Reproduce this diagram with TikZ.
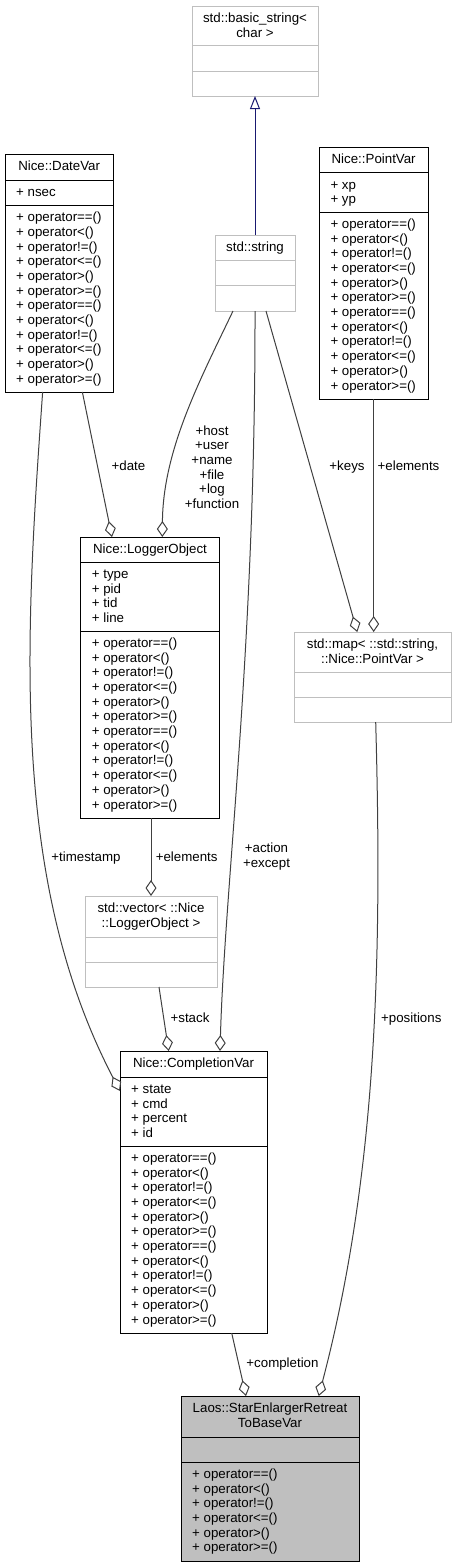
\documentclass[tikz,border=0pt]{standalone}
\usepackage{fontspec}
\setmainfont{Liberation Sans}
\usetikzlibrary{arrows.meta,calc}
\definecolor{gborder}{HTML}{BFBFBF}
\definecolor{edgec}{HTML}{404040}
\definecolor{inhc}{HTML}{191970}
\definecolor{curfill}{HTML}{BFBFBF}
\newcommand\clsbox[6]{\node[#2, minimum width={#5-#3}, minimum height={#6-#4}, inner sep=0pt, outer sep=0pt, anchor=north west] (#1) at (#3,#4) {};}
\newcommand\hsep[4]{\draw[#1] (#2,#4) -- (#3,#4);}
\newcommand\lns[5]{\foreach \t [count=\i from 0] in {#5} {\node[txt, anchor=#2] (#1\i) at (#3,{#4+14.7*\i}) {\t};}}
\begin{document}
\begin{tikzpicture}[x=1pt,y=-1pt,
 txt/.style={font=\fontsize{13.3}{14.7}\selectfont, inner sep=0pt, text=black},
 gbox/.style={draw=gborder, line width=1pt, fill=white},
 bbox/.style={draw=black, line width=1pt, fill=white},
 cbox/.style={draw=black, line width=1pt, fill=curfill},
 gsep/.style={draw=gborder, line width=1pt},
 bsep/.style={draw=black, line width=1pt},
 rel/.style={draw=edgec, line width=1pt},
 agg/.style={rel, -{Diamond[open, length=16pt, width=11pt]}},
 inh/.style={draw=inhc, line width=1pt, -{Triangle[open, length=13pt, width=10pt]}}]
\useasboundingbox (0,0) rectangle (456,1567);
\fill[white] (0,0) rectangle (456,1567);

% std::basic_string<char>
\clsbox{bstr}{gbox}{192}{6}{318}{96}
\hsep{gsep}{192}{318}{45.5}\hsep{gsep}{192}{318}{71}
\lns{bt}{base}{255}{22.3}{std::basic\_string<,char >}

% std::string
\clsbox{str}{gbox}{215}{235}{295}{311}
\hsep{gsep}{215}{295}{260}\hsep{gsep}{215}{295}{285}
\lns{st}{base}{255}{251.3}{std::string}

% Nice::DateVar
\clsbox{dv}{bbox}{5}{154.3}{113.3}{392}
\hsep{bsep}{5}{113.3}{180.3}\hsep{bsep}{5}{113.3}{205.3}
\lns{dvt}{base}{59.15}{170.6}{Nice::DateVar}
\lns{dva}{base west}{16}{196.6}{+ nsec}
\lns{dvm}{base west}{16}{221.6}{+ operator==(),+ operator<(),+ operator!=(),+ operator<=(),+ operator>(),+ operator>=(),+ operator==(),+ operator<(),+ operator!=(),+ operator<=(),+ operator>(),+ operator>=()}

% Nice::PointVar
\clsbox{pv}{bbox}{319.3}{147}{428}{399}
\hsep{bsep}{319.3}{428}{172.7}\hsep{bsep}{319.3}{428}{212}
\lns{pvt}{base}{373.65}{163.3}{Nice::PointVar}
\lns{pva}{base west}{330.3}{189}{+ xp,+ yp}
\lns{pvm}{base west}{330.3}{228.3}{+ operator==(),+ operator<(),+ operator!=(),+ operator<=(),+ operator>(),+ operator>=(),+ operator==(),+ operator<(),+ operator!=(),+ operator<=(),+ operator>(),+ operator>=()}

% Nice::LoggerObject
\clsbox{lo}{bbox}{80.7}{537}{219.3}{818}
\hsep{bsep}{80.7}{219.3}{562}\hsep{bsep}{80.7}{219.3}{631}
\lns{lot}{base}{150}{553.3}{Nice::LoggerObject}
\lns{loa}{base west}{91.7}{578.3}{+ type,+ pid,+ tid,+ line}
\lns{lom}{base west}{91.7}{647.3}{+ operator==(),+ operator<(),+ operator!=(),+ operator<=(),+ operator>(),+ operator>=(),+ operator==(),+ operator<(),+ operator!=(),+ operator<=(),+ operator>(),+ operator>=()}

% std::map
\clsbox{map}{gbox}{294}{632}{451}{722}
\hsep{gsep}{294}{451}{672}\hsep{gsep}{294}{451}{697}
\node[txt, anchor=base] (mapt0) at (372.5,648.3) {std::map< ::std::string,};
\node[txt, anchor=base] (mapt1) at (372.5,663) {::Nice::PointVar >};

% std::vector
\clsbox{vec}{gbox}{85}{896}{217}{987}
\hsep{gsep}{85}{217}{937}\hsep{gsep}{85}{217}{962}
\lns{vect}{base}{151}{912.3}{std::vector< ::Nice,::LoggerObject >}

% Nice::CompletionVar
\clsbox{cv}{bbox}{120}{1051}{267}{1333}
\hsep{bsep}{120}{267}{1077}\hsep{bsep}{120}{267}{1146}
\lns{cvt}{base}{193.5}{1067.3}{Nice::CompletionVar}
\lns{cva}{base west}{131}{1093.3}{+ state,+ cmd,+ percent,+ id}
\lns{cvm}{base west}{131}{1162.3}{+ operator==(),+ operator<(),+ operator!=(),+ operator<=(),+ operator>(),+ operator>=(),+ operator==(),+ operator<(),+ operator!=(),+ operator<=(),+ operator>(),+ operator>=()}

% Laos::StarEnlargerRetreatToBaseVar
\clsbox{star}{cbox}{181}{1396}{359}{1561}
\hsep{bsep}{181}{359}{1437}\hsep{bsep}{181}{359}{1462}
\lns{start}{base}{270}{1412.3}{Laos::StarEnlargerRetreat,ToBaseVar}
\lns{starm}{base west}{192}{1478.3}{+ operator==(),+ operator<(),+ operator!=(),+ operator<=(),+ operator>(),+ operator>=()}

% connectors
\draw[inh] (str.north) -- (bstr.south);
\draw[agg] ([xshift=23.2pt]dv.south) -- ([xshift=-38pt]lo.north);
\draw[agg] ([xshift=-22pt]str.south) .. controls (200,380) and (163,450) .. ([xshift=12.3pt]lo.north);
\draw[agg] (str.south) .. controls (255.5,650) and (225,880) .. ([xshift=26.5pt]cv.north);
\draw[agg] ([xshift=11pt]str.south) -- ([xshift=-15.2pt]map.north);
\draw[agg] (pv.south) -- (pv.south |- map.north);
\draw[agg] (vec.north |- lo.south) -- (vec.north);
\draw[agg] ([xshift=-16.5pt]dv.south) .. controls (25,640) and (10,880) .. ([yshift=-40pt]cv.north west);
\draw[agg] ([xshift=8pt]vec.south) -- ([xshift=-24.8pt]cv.north);
\draw[agg] ([xshift=38.2pt]cv.south) -- ([xshift=-24pt]star.north);
\draw[agg] ([xshift=3.2pt]map.south) .. controls (382,950) and (378,1170) .. ([xshift=48.7pt]star.north);

% labels
\node[txt, anchor=base] (ldate) at (128.5,470.7) {+date};
\lns{lhost}{base}{212}{435}{+host,+user,+name,+file,+log,+function}
\node[txt, anchor=base] (lkeys) at (347,470.7) {+keys};
\node[txt, anchor=base] (lelp) at (408.5,470.7) {+elements};
\node[txt, anchor=base] (lell) at (186.7,861) {+elements};
\node[txt, anchor=base] (lts) at (86,861) {+timestamp};
\lns{lact}{base}{266.5}{852.7}{+action,+except}
\node[txt, anchor=base] (lstack) at (190,1022.7) {+stack};
\node[txt, anchor=base] (lpos) at (411.3,1022.7) {+positions};
\node[txt, anchor=base] (lcomp) at (282.5,1367.7) {+completion};
\end{tikzpicture}
\end{document}
